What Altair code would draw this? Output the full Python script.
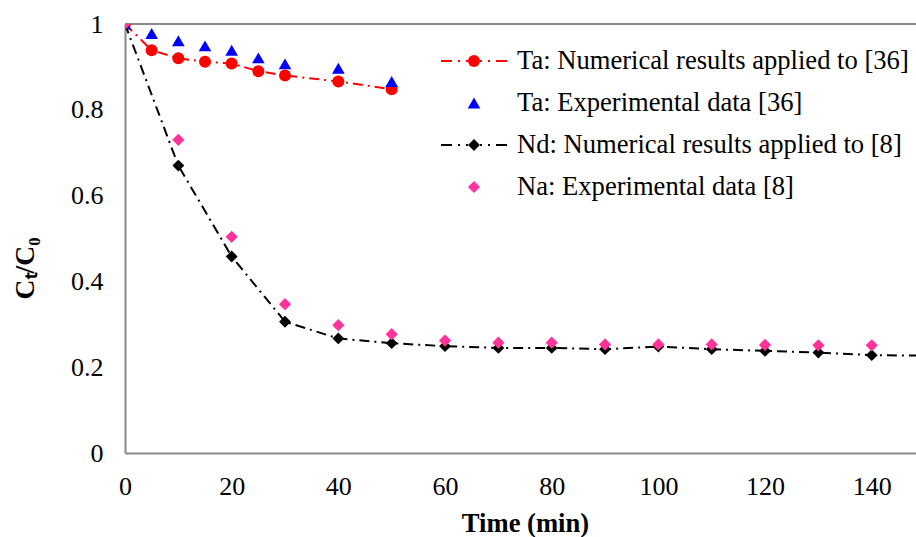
import altair as alt
import pandas as pd

# ---------------- data ----------------
time_ta = [0, 5, 10, 15, 20, 25, 30, 40, 50]
ta_num = [1.0, 0.939, 0.920, 0.912, 0.908, 0.890, 0.880, 0.866, 0.848]
ta_exp = [1.0, 0.978, 0.961, 0.949, 0.939, 0.921, 0.907, 0.897, 0.866]

time_nd = [0, 10, 20, 30, 40, 50, 60, 70, 80, 90, 100, 110, 120, 130, 140, 150]
nd_num = [1.0, 0.670, 0.458, 0.306, 0.267, 0.256, 0.249, 0.245, 0.245, 0.242,
          0.248, 0.242, 0.238, 0.234, 0.228, 0.227]

time_na = [0, 10, 20, 30, 40, 50, 60, 70, 80, 90, 100, 110, 120, 130, 140]
na_exp = [1.0, 0.730, 0.504, 0.347, 0.298, 0.277, 0.262, 0.257, 0.257, 0.253,
          0.253, 0.253, 0.252, 0.251, 0.251]

x_ticks = [0, 20, 40, 60, 80, 100, 120, 140]
y_ticks = [0, 0.2, 0.4, 0.6, 0.8, 1]
legend_labels = [
    "Ta: Numerical results applied to [36]",
    "Ta: Experimental data [36]",
    "Nd: Numerical results applied to [8]",
    "Na: Experimental data [8]",
]

# ---------------- styling ----------------
FONT = "Liberation Serif"
FS_TICK = 26
FS_TXT = 26.6
AXIS_GRAY = "#898989"
RED = "#FF0000"
BLUE = "#0000FF"
BLACK = "#000000"
PINK = "#FF3399"
DASH = [10, 5, 2, 5]
X_MAX = 148.3

x_scale = alt.Scale(domain=[0, X_MAX], nice=False, zero=False)
y_scale = alt.Scale(domain=[0, 1], nice=False)

X = alt.X("t:Q", scale=x_scale,
          axis=alt.Axis(values=x_ticks, title="Time (min)", grid=False, ticks=False,
                        domainColor=AXIS_GRAY, domainWidth=2, labelFont=FONT,
                        labelFontSize=FS_TICK, labelColor="black", labelPadding=20,
                        labelFlush=False,
                        titleFont=FONT, titleFontSize=FS_TXT, titleFontWeight="bold",
                        titleColor="black", titleX=400, titleY=70,
                        titleBaseline="middle", format="d"))
Y = alt.Y("v:Q", scale=y_scale,
          axis=alt.Axis(values=y_ticks, title="Cₜ/C₀", grid=False, ticks=False,
                        domainColor=AXIS_GRAY, domainWidth=2, labelFont=FONT,
                        labelFontSize=FS_TICK, labelColor="black", labelPadding=22,
                        labelFlush=False,
                        labelExpr="datum.value == 0 ? '0' : datum.value == 1 ? '1' : format(datum.value, '.1f')",
                        titleFont=FONT, titleFontSize=FS_TXT + 1, titleFontWeight="bold",
                        titleColor="black", titleAngle=270, titleX=-100, titleY=244,
                        titleBaseline="middle"))


def df(t, v):
    return pd.DataFrame({"t": t, "v": v})


d_ta_num = df(time_ta, ta_num)
d_ta_exp = df(time_ta, ta_exp)
d_nd_num = df(time_nd, nd_num)
d_na_exp = df(time_na, na_exp)

top_rule = alt.Chart(pd.DataFrame({"v": [1]})).mark_rule(
    color=AXIS_GRAY, strokeWidth=2).encode(y=Y)

ta_line = alt.Chart(d_ta_num).mark_line(color=RED, strokeWidth=2, strokeDash=DASH, clip=True).encode(x=X, y=Y)
ta_pts = alt.Chart(d_ta_num).mark_point(shape="circle", filled=True, color=RED, size=144, opacity=1, clip=True).encode(x=X, y=Y)
ta_exp_pts = alt.Chart(d_ta_exp).mark_point(shape="triangle-up", filled=True, color=BLUE, size=160, opacity=1, clip=True).encode(x=X, y=Y)
nd_line = alt.Chart(d_nd_num).mark_line(color=BLACK, strokeWidth=2, strokeDash=DASH, clip=True).encode(x=X, y=Y)
nd_pts = alt.Chart(d_nd_num).mark_point(shape="diamond", filled=True, color=BLACK, size=140, opacity=1, clip=True).encode(x=X, y=Y)
na_pts = alt.Chart(d_na_exp).mark_point(shape="diamond", filled=True, color=PINK, size=150, opacity=1, clip=True).encode(x=X, y=Y)

# ---------------- manual legend ----------------
legend_rows_y = [61, 103, 145, 187]
legend_specs = [
    (RED, "circle", 144, True),
    (BLUE, "triangle-up", 160, False),
    (BLACK, "diamond", 140, True),
    (PINK, "diamond", 150, False),
]
SYM_X = 474 - 125
TXT_X = 517 - 125
legend_layers = []
for label, ypix, (col, shp, sz, has_line) in zip(legend_labels, legend_rows_y, legend_specs):
    yy = ypix - 24
    one = pd.DataFrame({"label": [label]})
    if has_line:
        legend_layers.append(alt.Chart(one).mark_rule(color=col, strokeWidth=2, strokeDash=[11, 6, 2, 6]).encode(
            x=alt.value(SYM_X - 33), x2=alt.value(SYM_X - 6), y=alt.value(yy)))
        legend_layers.append(alt.Chart(one).mark_rule(color=col, strokeWidth=2, strokeDash=[11, 6, 2, 6]).encode(
            x=alt.value(SYM_X + 33), x2=alt.value(SYM_X + 6), y=alt.value(yy)))
    legend_layers.append(alt.Chart(one).mark_point(shape=shp, filled=True, color=col, size=sz, opacity=1).encode(
        x=alt.value(SYM_X), y=alt.value(yy)))
    legend_layers.append(alt.Chart(one).mark_text(font=FONT, fontSize=FS_TXT, color="black", align="left",
                                                  baseline="middle").encode(
        x=alt.value(TXT_X), y=alt.value(yy), text="label:N"))

chart = alt.layer(
    top_rule, ta_line, ta_pts, ta_exp_pts, nd_line, nd_pts, na_pts, *legend_layers
).properties(
    width=791, height=429,
    padding={"left": 125, "top": 24, "right": 0, "bottom": 84},
    autosize=alt.AutoSizeParams(type="none"),
).configure_view(stroke=None).configure(background="white")

chart.save("out.html", embed_options={"renderer": "svg", "actions": False})
